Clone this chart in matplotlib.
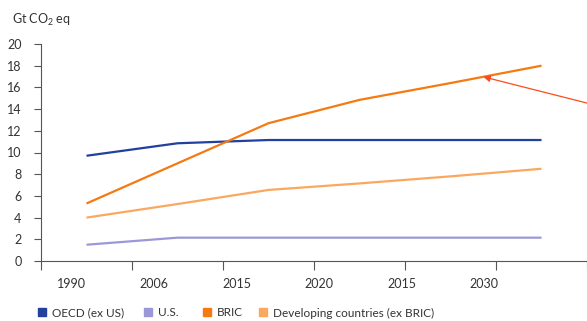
import matplotlib
matplotlib.use("Agg")
import matplotlib.pyplot as plt
from matplotlib.lines import Line2D
import numpy as np

plt.rcParams['font.family'] = ['Lato', 'DejaVu Sans']
plt.rcParams['mathtext.fontset'] = 'custom'
plt.rcParams['mathtext.rm'] = 'Lato'
plt.rcParams['mathtext.it'] = 'Lato'

years = ["1990", "2006", "2015", "2020", "2015", "2030"]
oecd = [9.7, 10.85, 11.15, 11.15, 11.15, 11.15]
us = [1.5, 2.15, 2.15, 2.15, 2.15, 2.15]
bric = [5.3, 9.0, 12.7, 14.85, 16.4, 18.0]
developing = [4.0, 5.25, 6.55, 7.15, 7.8, 8.5]
series_names = ["OECD (ex US)", "U.S.", "BRIC", "Developing countries (ex BRIC)"]
y_ticks = list(range(0, 21, 2))

colors = ["#22409e", "#9c98d8", "#f57a12", "#f9a860"]
text_color = "#333333"
axis_color = "#555555"

W, H = 587, 321
fig = plt.figure(figsize=(W / 100, H / 100), dpi=100)
ax = fig.add_axes([41 / W, 1 - 261 / H, 1 - 41 / W, (261 - 44) / H])

x = np.arange(len(years)) + 0.5
for vals, col in zip([oecd, us, bric, developing], colors):
    ax.plot(x, vals, color=col, lw=1.6, solid_capstyle='butt', solid_joinstyle='round')

ax.set_xlim(0, 5.95)
ax.set_ylim(0, 20)

for s in ["top", "right"]:
    ax.spines[s].set_visible(False)
for s in ["left", "bottom"]:
    ax.spines[s].set_color(axis_color)
    ax.spines[s].set_linewidth(0.8)

ax.set_yticks(y_ticks)
ax.tick_params(axis='y', length=5, width=0.8, color=axis_color, pad=9,
               labelsize=9, labelcolor=text_color)

# category boundaries as long ticks, year labels placed beneath
ax.set_xticks(np.arange(0, 7), minor=True)
ax.tick_params(axis='x', which='minor', length=6.5, width=0.8, color=axis_color)
ax.set_xticks(np.arange(len(years)) * 0.906 + 0.34)
ax.set_xticklabels(years)
ax.tick_params(axis='x', which='major', length=0, pad=12,
               labelsize=9, labelcolor=text_color)

fig.text(12 / W, 1 - 24 / H, "Gt CO$_2$ eq", fontsize=9, color=text_color,
         va='baseline', ha='left')

# red pointer onto the BRIC line
tip_x = 4.86
tip_y = np.interp(tip_x, x, bric)
ax.annotate("", xy=(tip_x, tip_y), xytext=(6.05, 14.45), annotation_clip=False,
            arrowprops=dict(arrowstyle='-|>', color="#ff4a1c", lw=0.9,
                            mutation_scale=10, shrinkA=0, shrinkB=0))

# legend entries, each anchored at its own position along the bottom
legend_left = [37.3, 143.3, 202.3, 258.3]
for name, col, lx in zip(series_names, colors, legend_left):
    h = Line2D([], [], marker='s', linestyle='none', markersize=5.8,
               markerfacecolor=col, markeredgecolor=col)
    fig.legend([h], [name], loc='center left', bbox_to_anchor=(lx / W, 1 - 313 / H),
               frameon=False, fontsize=8.5, labelcolor=text_color,
               handlelength=0.8, handletextpad=0.45, borderpad=0, borderaxespad=0)

fig.savefig("out.png", dpi=100)
